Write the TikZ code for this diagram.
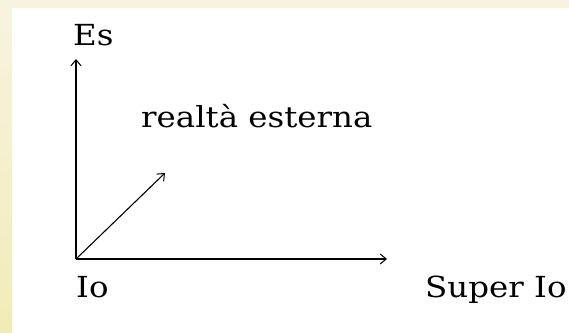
\documentclass[tikz,border=0pt]{standalone}
\usepackage{graphicx}
\usepackage{fontspec}
\setmainfont{DejaVu Serif}
\newfontfamily\lblfont{DejaVu Serif}
\usetikzlibrary{arrows.meta}
\definecolor{creamtop}{HTML}{F8F3DF}
\definecolor{creambot}{HTML}{F1ECB6}
\tikzset{
  axis/.style={line width=1.1pt,-{Straight Barb[length=6pt,width=10pt,line width=1pt]}},
  lbl/.style={inner sep=0pt,anchor=base west,font=\lblfont\fontsize{29}{34}\selectfont},
}
\newcommand{\wide}[1]{\scalebox{1.12}[1]{#1}}
\begin{document}
\begin{tikzpicture}[x=1pt,y=1pt]
\useasboundingbox (0,0) rectangle (569,332);
\fill[creamtop] (0,324) rectangle (569,332);
\shade[top color=creamtop,bottom color=creambot] (0,0) rectangle (12,324);
\fill[white] (12,0) rectangle (569,324);
\coordinate (O) at (76,73);
\coordinate (Etip) at (76,273);
\coordinate (Stip) at (387,73);
\coordinate (Rtip) at (165,159);
\draw[axis] (O) -- (Etip);
\draw[axis] (O) -- (Stip);
\draw[axis] (O) -- (Rtip);
\node[lbl] (es) at (73,286) {\wide{Es}};
\node[lbl] (re) at (141,204) {\wide{realtà esterna}};
\node[lbl] (io) at (76,35) {\wide{Io}};
\node[lbl] (si) at (425,35) {\wide{Super Io}};
\end{tikzpicture}
\end{document}
